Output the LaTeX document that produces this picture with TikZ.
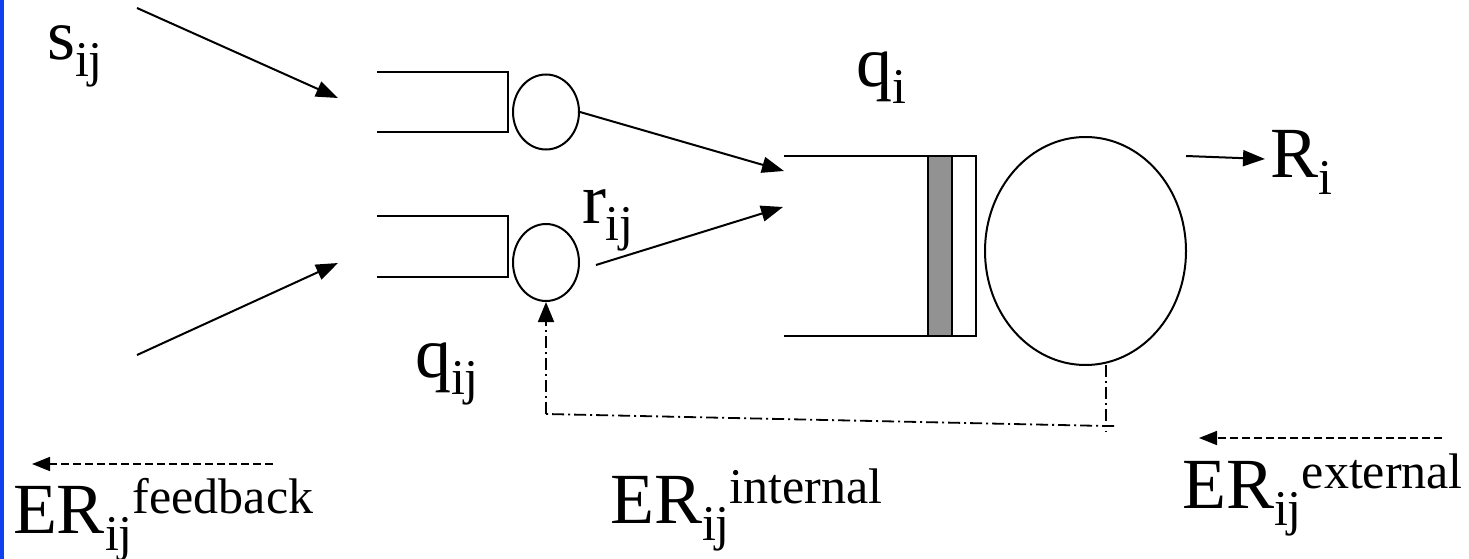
\documentclass[tikz,border=0pt]{standalone}
\usepackage{fontspec}
\setmainfont{Liberation Serif}
\newfontfamily\tnr{Liberation Serif}
\usetikzlibrary{arrows.meta,shapes.geometric}
\definecolor{barblue}{RGB}{17,64,240}
\definecolor{slotgray}{RGB}{146,146,146}
\newcommand\lowtxt[1]{\raisebox{-17pt}{\fontsize{50}{55}\selectfont #1}}
\newcommand\hightxt[1]{\raisebox{20pt}{\fontsize{50}{55}\selectfont #1}}
\tikzset{
  lbl/.style={inner sep=0pt, outer sep=0pt, anchor=base west, font=\tnr\fontsize{72}{80}\selectfont},
  ln/.style={line width=2pt},
  arr/.style={ln, -{Triangle[length=22pt,width=16pt]}},
  darr/.style={line width=1.6pt, dash pattern=on 8pt off 4pt, -{Triangle[length=18pt,width=14pt]}},
  dd/.style={line width=1.8pt, dash pattern=on 12pt off 4pt on 2pt off 4pt},
  srv/.style={ellipse, draw, line width=2pt, inner sep=0pt},
}
\begin{document}
\begin{tikzpicture}[x=1pt,y=-1pt]
\useasboundingbox (0,0) rectangle (1469,559);
\fill[barblue] (0,0) rectangle (3.5,559);
% labels
\node[lbl] (sij) at (47,60) {s\lowtxt{ij}};
\node[lbl] (rij) at (582,223) {r\lowtxt{ij}};
\node[lbl] (qij) at (415,377) {q\lowtxt{ij}};
\node[lbl] (qi) at (856,87) {q\lowtxt{i}};
\node[lbl] (Ri) at (1270,177) {R\lowtxt{i}};
\node[lbl] (erf) at (13,533) {ER\lowtxt{ij}\hightxt{feedback}};
\node[lbl] (eri) at (610,523) {ER\lowtxt{ij}\hightxt{internal}};
\node[lbl] (ere) at (1182,508) {ER\lowtxt{ij}\hightxt{external}};
% upper and lower small queues
\draw[ln] (377,72) -- (508,72) -- (508,132) -- (377,132);
\draw[ln] (377,216) -- (508,216) -- (508,277) -- (377,277);
\node[srv, minimum width=66pt, minimum height=75pt] (c1) at (546,112) {};
\node[srv, minimum width=66pt, minimum height=77pt] (c2) at (546,262.5) {};
% big queue
\draw[ln] (928,156) -- (784,156);
\draw[ln] (928,336) -- (784,336);
\draw[ln, fill=slotgray] (928,156) rectangle (952,336);
\draw[ln] (952,156) rectangle (976,336);
\node[srv, minimum width=201pt, minimum height=228pt] (bigc) at (1085.5,251) {};
% coordinates
\coordinate (s1) at (137,8);
\coordinate (t1) at (338,98);
\coordinate (s2) at (137,355);
\coordinate (t2) at (338,263);
\coordinate (bq1) at (784,171);
\coordinate (bq2) at (783,207);
\coordinate (rs) at (596,265);
\coordinate (Rs) at (1186,156);
\coordinate (Rt) at (1265,159);
\coordinate (fbs) at (1106,365);
\coordinate (fbc) at (1106,426);
\coordinate (fbl) at (546,414);
\coordinate (fa) at (273,464);
\coordinate (fb) at (32,464);
\coordinate (ea) at (1442,438);
\coordinate (eb) at (1199,438);
% connectors
\draw[arr] (s1) -- (t1);
\draw[arr] (s2) -- (t2);
\draw[arr] (c1.east) -- (bq1);
\draw[arr] (rs) -- (bq2);
\draw[arr] (Rs) -- (Rt);
\draw[dd] (fbs) -- (1106,432);
\draw[dd] (1114,426) -- (fbc) -- (fbl);
\draw[dd, -{Triangle[length=20pt,width=16pt]}] (fbl) -- (c2.south);
\draw[darr] (fa) -- (fb);
\draw[darr] (ea) -- (eb);
\end{tikzpicture}
\end{document}
